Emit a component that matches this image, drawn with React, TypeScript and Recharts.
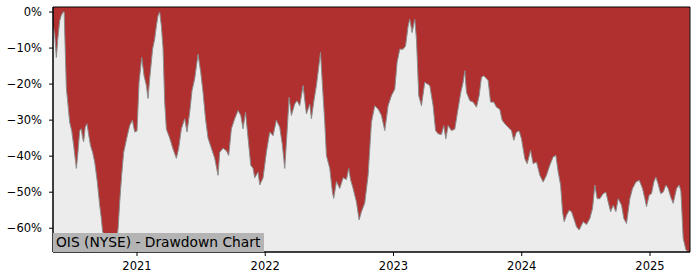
import React from 'react';
import { AreaChart, Area, XAxis, YAxis, CartesianGrid, ReferenceArea } from 'recharts';

// dates as fractional years
const dates = [
  2020.346, 2020.358, 2020.371, 2020.381, 2020.397, 2020.409, 2020.423, 2020.432, 2020.440, 2020.449,
  2020.475, 2020.491, 2020.506, 2020.527, 2020.537, 2020.553, 2020.566, 2020.576, 2020.584, 2020.596,
  2020.610, 2020.623, 2020.637, 2020.654, 2020.670, 2020.690, 2020.709, 2020.721, 2020.732, 2020.748,
  2020.771, 2020.795, 2020.818, 2020.842, 2020.853, 2020.865, 2020.881, 2020.896, 2020.920, 2020.943,
  2020.964, 2020.982, 2021.000, 2021.016, 2021.037, 2021.055, 2021.073, 2021.086, 2021.099, 2021.122,
  2021.138, 2021.151, 2021.164, 2021.177, 2021.190, 2021.203, 2021.216, 2021.229, 2021.255, 2021.281,
  2021.307, 2021.325, 2021.346, 2021.372, 2021.390, 2021.411, 2021.429, 2021.450, 2021.476, 2021.497,
  2021.515, 2021.534, 2021.554, 2021.580, 2021.606, 2021.632, 2021.645, 2021.671, 2021.697, 2021.715,
  2021.736, 2021.762, 2021.788, 2021.809, 2021.827, 2021.846, 2021.866, 2021.887, 2021.905, 2021.918,
  2021.944, 2021.957, 2021.983, 2022.009, 2022.035, 2022.061, 2022.087, 2022.113, 2022.134, 2022.152,
  2022.170, 2022.186, 2022.204, 2022.230, 2022.248, 2022.269, 2022.295, 2022.321, 2022.347, 2022.360,
  2022.378, 2022.399, 2022.415, 2022.431, 2022.446, 2022.464, 2022.477, 2022.503, 2022.524, 2022.534,
  2022.555, 2022.581, 2022.607, 2022.633, 2022.651, 2022.665, 2022.685, 2022.711, 2022.732, 2022.750,
  2022.776, 2022.802, 2022.828, 2022.854, 2022.880, 2022.906, 2022.932, 2022.958, 2022.984, 2023.010,
  2023.028, 2023.049, 2023.075, 2023.094, 2023.114, 2023.127, 2023.145, 2023.166, 2023.179, 2023.197,
  2023.218, 2023.244, 2023.283, 2023.309, 2023.328, 2023.348, 2023.374, 2023.392, 2023.408, 2023.426,
  2023.452, 2023.478, 2023.499, 2023.525, 2023.543, 2023.556, 2023.569, 2023.595, 2023.621, 2023.647,
  2023.668, 2023.686, 2023.704, 2023.725, 2023.738, 2023.757, 2023.782, 2023.803, 2023.829, 2023.847,
  2023.868, 2023.894, 2023.920, 2023.938, 2023.959, 2023.980, 2023.998, 2024.024, 2024.042, 2024.069,
  2024.089, 2024.115, 2024.141, 2024.167, 2024.193, 2024.219, 2024.245, 2024.266, 2024.284, 2024.303,
  2024.318, 2024.331, 2024.349, 2024.370, 2024.388, 2024.406, 2024.427, 2024.448, 2024.479, 2024.505,
  2024.531, 2024.552, 2024.570, 2024.588, 2024.609, 2024.635, 2024.656, 2024.674, 2024.693, 2024.713,
  2024.734, 2024.752, 2024.778, 2024.796, 2024.817, 2024.843, 2024.864, 2024.890, 2024.916, 2024.942,
  2024.960, 2024.973, 2024.994, 2025.012, 2025.030, 2025.046, 2025.064, 2025.083, 2025.103, 2025.124,
  2025.142, 2025.161, 2025.181, 2025.207, 2025.228, 2025.241, 2025.259, 2025.280, 2025.298, 2025.311,
];

// drawdown in percent
const drawdown = [
  -4, -6, -12.6, -8, -2.5, -1, 0, 0, -10, -21,
  -30.6, -33, -37, -43.4, -40, -33, -32.4, -35, -36, -32,
  -31, -34, -37, -39, -41.6, -47, -53.6, -57, -61, -62,
  -63, -63.5, -63, -63.2, -60, -52.8, -45, -39, -35, -31.5,
  -30, -33.3, -33, -19.5, -12.6, -17.7, -20.4, -24, -18.5, -10.2,
  -7.5, -3.9, -1, 0, -3.9, -10, -25, -32.5, -35, -38,
  -40.6, -37.8, -32.4, -29.6, -33.3, -27.8, -21.8, -18.5, -11.7, -16.8,
  -22.3, -29.6, -35, -37.8, -40.6, -45.3, -38.9, -37.8, -38.5, -39.8,
  -32.4, -29.6, -27.3, -28.7, -32.4, -27.8, -35, -42.5, -43.4, -46,
  -44.4, -48, -46, -38.9, -33.3, -34.3, -30, -32, -37, -43.4,
  -33.3, -23.7, -28.7, -25.5, -24.6, -26, -20.4, -28.3, -25.5, -29.6,
  -25, -20.4, -15.8, -11.2, -20.4, -30.6, -39.8, -43.4, -50, -51.7,
  -47, -49, -46, -46.5, -43.4, -46.5, -49, -52.7, -57.7, -55.4,
  -53, -45.3, -30.6, -26, -26.9, -28.7, -32.9, -26, -23.2, -21.4,
  -14, -10.3, -10.3, -9.4, -3.9, -2, -5.7, -2, -7.5, -23.2,
  -26, -19.5, -20.4, -26, -32.9, -33.8, -34, -31.5, -35.2, -31.5,
  -32.9, -32.5, -27.8, -22.3, -19.5, -16.3, -22.3, -24.6, -25, -26.4,
  -23.2, -18.1, -17.7, -18.5, -19, -25, -25, -26.4, -27, -30,
  -31, -32, -32.9, -35.6, -33.3, -33, -35.2, -40.7, -42.1, -38.4,
  -42.1, -41.6, -45.3, -47.2, -45.3, -42.5, -40.2, -39.8, -44.4, -48,
  -55.4, -58.2, -56.4, -55, -55.4, -57.3, -59.6, -60.5, -58.2, -59,
  -57.3, -54.5, -48, -51.8, -51.8, -50.4, -50, -52.7, -55.4, -53.6,
  -55.4, -51.8, -53.6, -57.3, -58.7, -51.8, -49, -47.2, -46.7, -49,
  -51.8, -54, -50.8, -50.4, -47.2, -45.8, -47.8, -50.4, -50, -48,
  -49, -51.3, -53.1, -49, -48, -49.8, -62.8, -66, -66.5, -66.5,
];

const yearTicks = [2021, 2022, 2023, 2024, 2025];
const pctTicks = [0, -10, -20, -30, -40, -50, -60];
const xDomain = [2020.345, 2025.312];
const yDomain = [-66.6, 1.4];
const title = 'OIS (NYSE) - Drawdown Chart';

const data = dates.map((t, i) => ({ t, dd: drawdown[i] }));

const tickStyle = { fontFamily: 'DejaVu Sans', fontSize: 11.5, fill: '#000' };

const fmtPct = (v: number) => (v < 0 ? '\u2212' : '') + Math.abs(v) + '%';

export default function App() {
  return (
    <div style={{ position: 'absolute', left: 0, top: 0, width: 700, height: 280 }}>
      <AreaChart
        width={700}
        height={280}
        data={data}
        margin={{ top: 7, right: 10, bottom: 0, left: 0 }}
      >
        <CartesianGrid fill="#ececec" horizontal={false} vertical={false} />
        <XAxis
          dataKey="t"
          type="number"
          domain={xDomain}
          allowDataOverflow
          ticks={yearTicks}
          tickFormatter={(v) => String(v)}
          height={28}
          tick={tickStyle}
          tickSize={4}
          tickMargin={6}
          stroke="#000"
          tickLine={{ stroke: '#000' }}
          axisLine={{ stroke: '#000' }}
        />
        <YAxis
          type="number"
          domain={yDomain}
          allowDataOverflow
          ticks={pctTicks}
          tickFormatter={fmtPct}
          width={53}
          tick={tickStyle}
          tickSize={4}
          tickMargin={7}
          stroke="#000"
          tickLine={{ stroke: '#000' }}
          axisLine={{ stroke: '#000' }}
        />
        <Area
          type="linear"
          dataKey="dd"
          baseValue="dataMax"
          fill="#b03030"
          fillOpacity={1}
          stroke="#8c8c8c"
          strokeWidth={1}
          isAnimationActive={false}
          dot={false}
          activeDot={false}
        />
        <ReferenceArea
          x1={xDomain[0]}
          x2={xDomain[1]}
          y1={yDomain[0]}
          y2={yDomain[1]}
          fill="none"
          stroke="#000"
          strokeWidth={1}
          ifOverflow="visible"
        />
      </AreaChart>
      <div
        style={{
          position: 'absolute',
          left: 53,
          top: 233,
          width: 211,
          height: 19,
          lineHeight: '19px',
          background: '#b4b4b4',
          fontFamily: 'DejaVu Sans',
          fontSize: 13.8,
          color: '#000',
          paddingLeft: 3,
          boxSizing: 'border-box',
          whiteSpace: 'nowrap',
        }}
      >
        {title}
      </div>
    </div>
  );
}
